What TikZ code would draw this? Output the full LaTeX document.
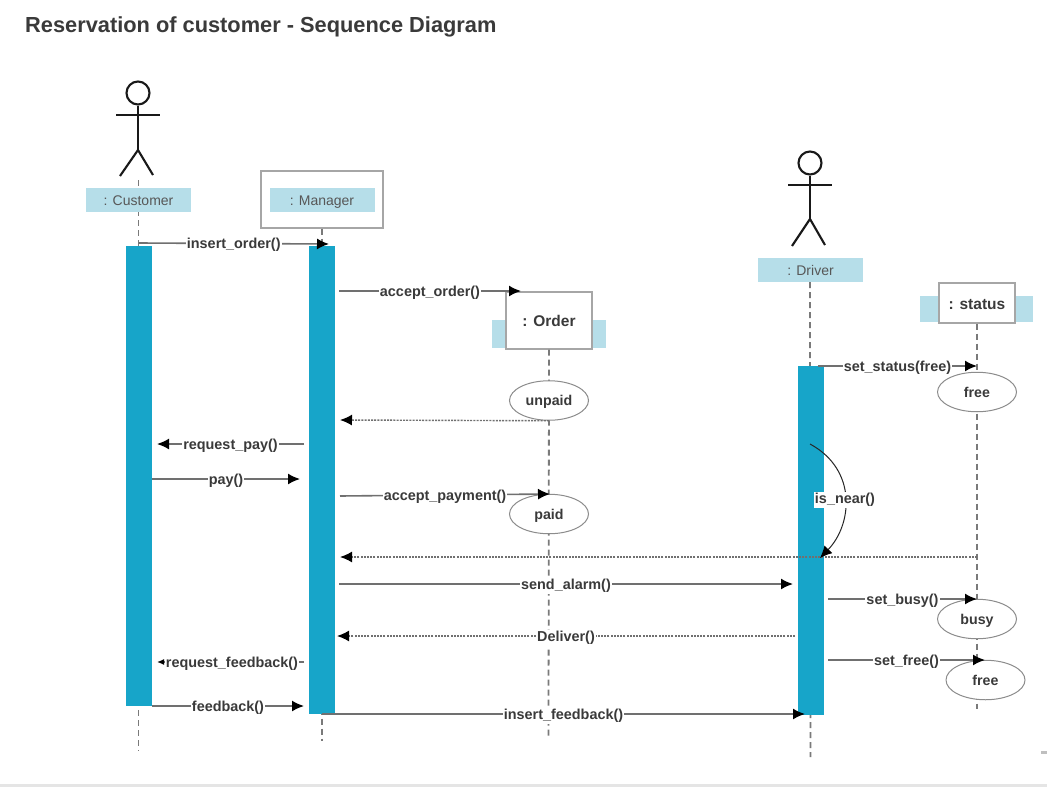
\documentclass[tikz,border=0pt]{standalone}
\usepackage{fontspec}
\setmainfont{Liberation Sans}
\usepackage{xcolor}
\usetikzlibrary{arrows.meta,shapes.geometric,positioning}
\definecolor{barblue}{HTML}{17A5C9}
\definecolor{paleblue}{HTML}{B6DEE9}
\definecolor{inkgray}{HTML}{3A3A3A}
\definecolor{linegray}{HTML}{707070}

\begin{document}
\begin{tikzpicture}[x=1pt,y=-1pt,
  namelabel/.style={fill=paleblue,text=inkgray!85,font=\fontsize{14}{16}\selectfont,minimum width=105pt,minimum height=24pt,inner sep=0pt,text height=11pt,text depth=0pt},
  palerect/.style={fill=paleblue,minimum width=114pt,minimum height=28pt,inner sep=0pt},
  objbox/.style={draw=black!35,line width=1.4pt,fill=white,text=inkgray,font=\fontsize{15.5}{18}\selectfont\bfseries,inner sep=0pt,text height=12pt,text depth=0pt},
  statenode/.style={ellipse,draw=black!45,line width=1pt,fill=white,text=inkgray,font=\fontsize{14.2}{16}\selectfont\bfseries,minimum width=79pt,minimum height=39.5pt,inner sep=0pt,text height=10pt,text depth=0pt},
  activebar/.style={fill=barblue,minimum width=26pt,inner sep=0pt},
  lifeline/.style={draw=black!52,line width=1.8pt,dash pattern=on 6pt off 4pt},
  msg/.style={draw=linegray,line width=1.6pt,-{Latex[length=12pt,width=11pt,black]}},
  reply/.style={draw=linegray,line width=1.4pt,dash pattern=on 2pt off 1.2pt,-{Latex[length=12pt,width=11pt,black]}},
  msglabel/.style={fill=white,text=inkgray,font=\fontsize{14.4}{16}\selectfont\bfseries,inner sep=1pt,text height=10.5pt,text depth=3.5pt,yshift=-1.5pt},
  limb/.style={draw=black!90,line width=2.1pt}]

  \useasboundingbox (0,0) rectangle (1047,787);
  \fill[white] (0,0) rectangle (1047,787);
  \fill[black!10] (0,784) rectangle (1047,787);
  \fill[black!25] (1041,751) rectangle (1047,754);

  \node[anchor=west,text=inkgray,font=\fontsize{21.8}{26}\selectfont\bfseries,inner sep=0pt] (title) at (25,27) {Reservation of customer - Sequence Diagram};

  % lifelines
  \coordinate (customerTop) at (138.5,180);
  \coordinate (customerEnd) at (138.5,751);
  \coordinate (managerEnd) at (322,741);
  \coordinate (driverEnd) at (810.5,757);
  \coordinate (orderEnd) at (548.5,737);
  \coordinate (statusEnd) at (977,709);

  % customer actor
  \node[circle,draw=black!90,line width=2.1pt,minimum size=23pt,inner sep=0pt] (customerHead) at (138,93) {};
  \coordinate (customerHip) at (138,150);
  \coordinate (customerArmL) at (116,115);
  \coordinate (customerArmR) at (160,115);
  \coordinate (customerLegL) at (120,176);
  \coordinate (customerLegR) at (153,175);
  \draw[limb] (customerHead.south) -- (customerHip);
  \draw[limb] (customerArmL) -- (customerArmR);
  \draw[limb] (customerLegL) -- (customerHip) -- (customerLegR);

  % driver actor
  \node[circle,draw=black!90,line width=2.1pt,minimum size=23pt,inner sep=0pt] (driverHead) at (810,163) {};
  \coordinate (driverHip) at (810,219);
  \coordinate (driverArmL) at (788,185);
  \coordinate (driverArmR) at (832,185);
  \coordinate (driverLegL) at (792,246);
  \coordinate (driverLegR) at (825,245);
  \draw[limb] (driverHead.south) -- (driverHip);
  \draw[limb] (driverArmL) -- (driverArmR);
  \draw[limb] (driverLegL) -- (driverHip) -- (driverLegR);

  \node[draw=black!35,line width=1.4pt,fill=white,minimum width=122pt,minimum height=57pt] (managerBox) at (322,199.5) {};
  \node[palerect] (orderBack) at (549,334) {};
  \node[objbox,minimum width=86pt,minimum height=57pt] (orderBox) at (549,320.5) {: Order};
  \node[palerect,minimum width=113pt,minimum height=26pt] (statusBack) at (976.5,309) {};
  \node[objbox,minimum width=76pt,minimum height=40pt] (statusBox) at (977,303) {: status};

  \draw[lifeline] (customerTop) -- (customerEnd);
  \draw[lifeline] (managerBox.south) -- (managerEnd);
  \draw[lifeline] (driverHip |- 0,282) -- (driverEnd);
  \draw[lifeline] (orderBox.south) -- (orderEnd);
  \draw[lifeline] (statusBox.south) -- (statusEnd);

  \node[namelabel] (customerName) at (138.5,200) {: Customer};
  \node[namelabel] (managerName) at (322,200) {: Manager};
  \node[namelabel] (driverName) at (810.5,270) {: Driver};

  \node[activebar,minimum height=460pt] (customerBar) at (139,476) {};
  \node[activebar,minimum height=468pt] (managerBar) at (322,480) {};
  \node[activebar,minimum height=349pt] (driverBar) at (811,540.5) {};

  \node[statenode] (unpaid) at (549,400.5) {unpaid};
  \node[statenode] (paid) at (549,514) {paid};
  \node[statenode] (statusFree) at (977,392) {free};
  \node[statenode] (statusBusy) at (977,619) {busy};
  \node[statenode] (statusFreeAgain) at (985.5,680) {free};

  % messages
  \coordinate (insertOrderA) at (138.5,243);
  \coordinate (insertOrderB) at (329,244);
  \coordinate (acceptOrderA) at (339,291);
  \coordinate (acceptOrderB) at (521,291);
  \coordinate (unpaidB) at (340,420);
  \coordinate (requestPayA) at (304,444);
  \coordinate (requestPayB) at (157,444);
  \coordinate (payA) at (152,479);
  \coordinate (payB) at (300,479);
  \coordinate (acceptPayA) at (340,496);
  \coordinate (acceptPayB) at (550,494);
  \coordinate (nearReplyA) at (977,557);
  \coordinate (nearReplyB) at (340,557);
  \coordinate (alarmA) at (339,584);
  \coordinate (alarmB) at (793,584);
  \coordinate (deliverA) at (795,636);
  \coordinate (deliverB) at (337,636);
  \coordinate (requestFeedbackA) at (304,662);
  \coordinate (requestFeedbackB) at (157,662);
  \coordinate (feedbackA) at (152,706);
  \coordinate (feedbackB) at (304,706);
  \coordinate (insertFeedbackA) at (322,714);
  \coordinate (insertFeedbackB) at (805,714);
  \coordinate (setStatusA) at (818,366);
  \coordinate (setStatusB) at (977,366);
  \coordinate (setBusyA) at (828,599);
  \coordinate (setBusyB) at (977,599);
  \coordinate (setFreeA) at (828,660);
  \coordinate (setFreeB) at (985,660);
  \coordinate (nearA) at (810,444);
  \coordinate (nearB) at (820,558);

  \draw[msg] (insertOrderA) -- node[msglabel,pos=.5] (insertOrderLabel) {insert\_order()} (insertOrderB);
  \draw[msg] (acceptOrderA) -- node[msglabel,pos=.5] (acceptOrderLabel) {accept\_order()} (acceptOrderB);
  \draw[reply] (unpaid.south) -- (unpaidB);
  \draw[msg] (requestPayA) -- node[msglabel,pos=.5] (requestPayLabel) {request\_pay()} (requestPayB);
  \draw[msg] (payA) -- node[msglabel,pos=.5] (payLabel) {pay()} (payB);
  \draw[msg] (acceptPayA) -- node[msglabel,pos=.5] (acceptPayLabel) {accept\_payment()} (acceptPayB);
  \draw[reply] (nearReplyA) -- (nearReplyB);
  \draw[msg] (alarmA) -- node[msglabel,pos=.5] (alarmLabel) {send\_alarm()} (alarmB);
  \draw[reply] (deliverA) -- node[msglabel,pos=.5] (deliverLabel) {Deliver()} (deliverB);
  \draw[msg,-{Latex[length=7pt,width=6pt,black]}] (requestFeedbackA) -- node[msglabel,pos=.49] (requestFeedbackLabel) {request\_feedback()} (requestFeedbackB);
  \draw[msg] (feedbackA) -- node[msglabel,pos=.5] (feedbackLabel) {feedback()} (feedbackB);
  \draw[msg] (insertFeedbackA) -- node[msglabel,pos=.5] (insertFeedbackLabel) {insert\_feedback()} (insertFeedbackB);
  \draw[msg] (setStatusA) -- node[msglabel,pos=.5] (setStatusLabel) {set\_status(free)} (setStatusB);
  \draw[msg] (setBusyA) -- node[msglabel,pos=.5] (setBusyLabel) {set\_busy()} (setBusyB);
  \draw[msg] (setFreeA) -- node[msglabel,pos=.5] (setFreeLabel) {set\_free()} (setFreeB);
  \draw[draw=black!85,line width=1pt,-{Latex[length=12pt,width=11pt,black]}] (nearA) .. controls (858,470) and (852,525) .. node[msglabel,pos=.5] (nearLabel) {is\_near()} (nearB);
\end{tikzpicture}
\end{document}
